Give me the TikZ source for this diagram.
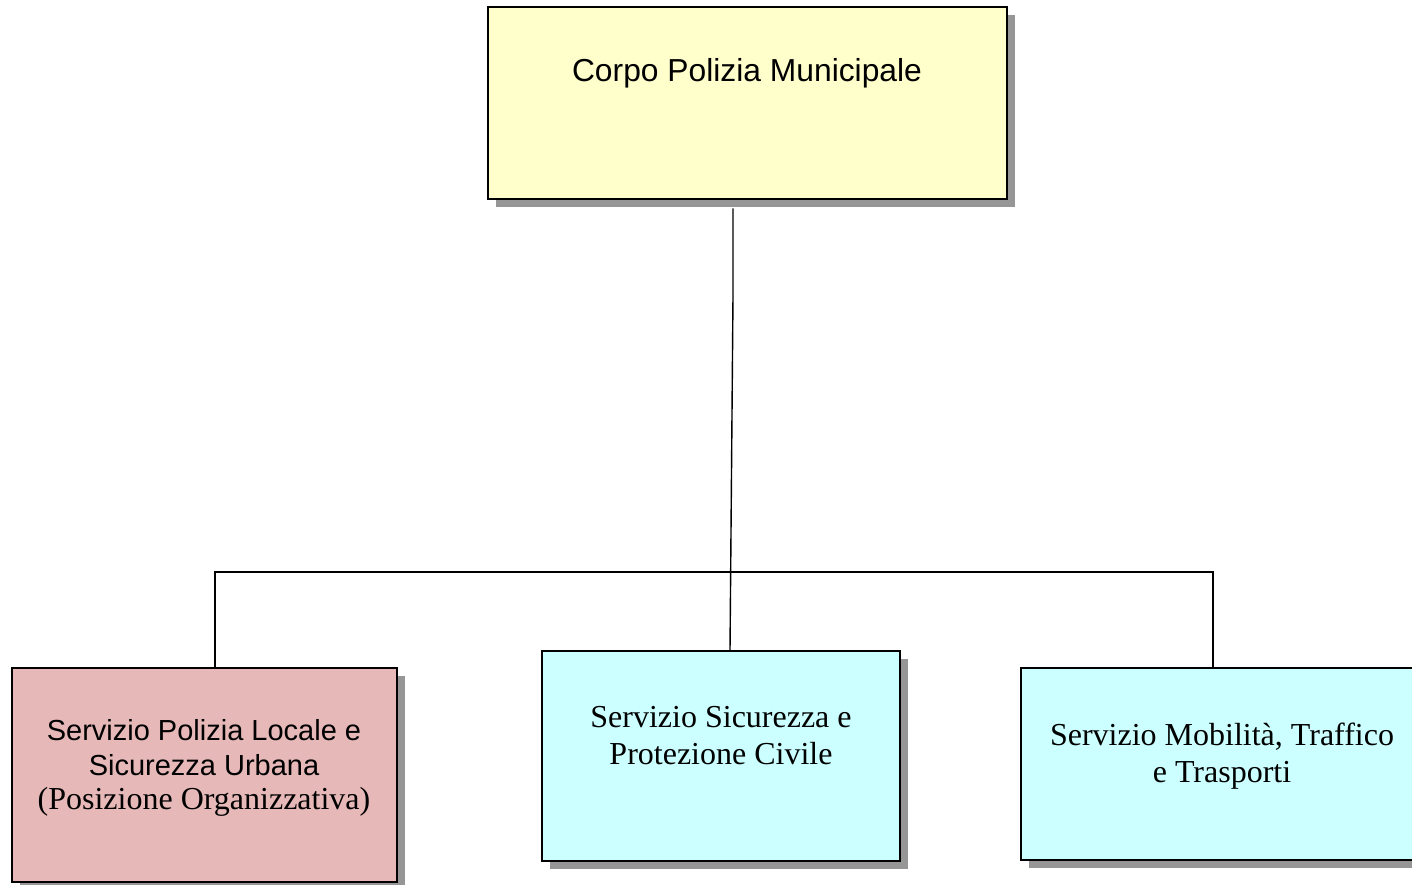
\documentclass[tikz,border=0pt]{standalone}
\usepackage{fontspec}
\setmainfont{Liberation Serif}
\setsansfont{Liberation Sans}
\usetikzlibrary{shadows}
\definecolor{yellowbox}{HTML}{FFFFCC}
\definecolor{pinkbox}{HTML}{E6B8B8}
\definecolor{cyanbox}{HTML}{CCFFFF}
\definecolor{shadowgray}{HTML}{969696}
\begin{document}
\begin{tikzpicture}[x=1pt,y=-1pt,
  box/.style={draw=black, line width=2.5pt, rectangle, inner sep=0pt,
    drop shadow={shadow xshift=8pt, shadow yshift=-8pt, fill=shadowgray, opacity=1}},
  conn/.style={draw=black, line width=1.4pt},
  lbl/.style={align=center, inner sep=0pt, text=black}]
\useasboundingbox (0,0) rectangle (1412,884);
\clip (0,0) rectangle (1412,884);
\node[box, fill=yellowbox, minimum width=519pt, minimum height=192pt] (top) at (747.5,103) {};
\node[box, fill=pinkbox, minimum width=385pt, minimum height=214pt] (left) at (204.5,775) {};
\node[box, fill=cyanbox, minimum width=358pt, minimum height=210pt] (mid) at (721,756) {};
\node[box, fill=cyanbox, minimum width=403pt, minimum height=192pt] (right) at (1222.5,764) {};
\node[lbl, font=\sffamily\fontsize{31.8}{38}\selectfont] (ttop) at (747,73) {Corpo Polizia Municipale};
\node[lbl, font=\fontsize{29}{34.5}\selectfont] (tleft) at (204,768)
  {{\sffamily Servizio Polizia Locale e}\\{\sffamily Sicurezza Urbana}\\{\rmfamily\fontsize{32}{36}\selectfont (Posizione Organizzativa)}};
\node[lbl, font=\fontsize{32}{36.5}\selectfont] (tmid) at (721,735.5) {Servizio Sicurezza e\\Protezione Civile};
\node[lbl, font=\fontsize{32}{36.5}\selectfont] (tright) at (1222,756) {Servizio Mobilità, Traffico\\e Trasporti};
\coordinate (kink) at (733,295);
\coordinate (barL) at (215,572);
\coordinate (barR) at (1213,572);
\draw[conn] ([xshift=-14.5pt,yshift=-8pt]top.south) -- (kink) -- ([xshift=9pt]mid.north);
\draw[conn] ([xshift=10.5pt]left.north) -- (barL) -- (barR) -- ([xshift=-9.5pt]right.north);
\end{tikzpicture}
\end{document}
